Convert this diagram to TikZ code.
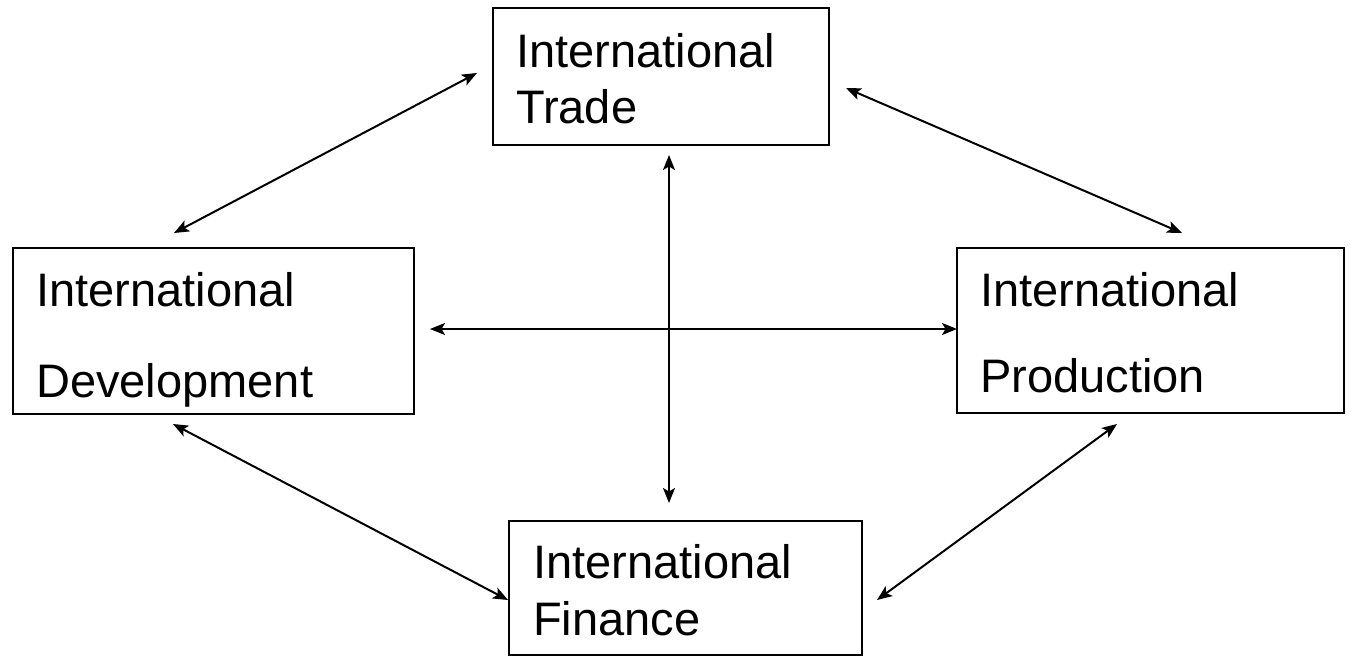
\documentclass[tikz,border=0pt]{standalone}
\usepackage{fontspec}
\setmainfont{Liberation Sans}
\usetikzlibrary{arrows.meta}
\begin{document}
\begin{tikzpicture}[x=1pt,y=-1pt,
  box/.style={draw=black,line width=2pt,inner sep=0pt,outer sep=0pt,anchor=north west},
  lbl/.style={anchor=base west,inner sep=0pt,font=\fontsize{47}{56}\selectfont},
  arr/.style={line width=2pt,{Stealth[length=15pt,width=12pt,inset=3.5pt]}-{Stealth[length=15pt,width=12pt,inset=3.5pt]}}]
\useasboundingbox (0,0) rectangle (1356,657);
% boxes
\node[box,minimum width=336pt,minimum height=137pt] (trade) at (493,8) {};
\node[box,minimum width=401pt,minimum height=166pt] (dev) at (13,248) {};
\node[box,minimum width=387pt,minimum height=165pt] (prod) at (957,248) {};
\node[box,minimum width=353pt,minimum height=134pt] (fin) at (509,521) {};
% labels
\node[lbl] (t1) at (516,67) {International};
\node[lbl] (t2) at (516,123) {Trade};
\node[lbl] (d1) at (36,306) {International};
\node[lbl] (d2) at (36,397) {Development};
\node[lbl] (p1) at (980,306) {International};
\node[lbl] (p2) at (980,392) {Production};
\node[lbl] (f1) at (533,578) {International};
\node[lbl] (f2) at (533,635) {Finance};
% connector ends
\coordinate (a1) at (477,73);  \coordinate (a2) at (174,233);
\coordinate (b1) at (846,88);  \coordinate (b2) at (1182,233);
\coordinate (v1) at (669,155); \coordinate (v2) at (669,503);
\coordinate (h1) at (430,329); \coordinate (h2) at (957,329);
\coordinate (c1) at (173,424); \coordinate (c2) at (508,600);
\coordinate (e1) at (1117,424);\coordinate (e2) at (877,600);
% connectors
\draw[arr] (a1) -- (a2);
\draw[arr] (b1) -- (b2);
\draw[arr] (v1) -- (v2);
\draw[arr] (h1) -- (h2);
\draw[arr] (c1) -- (c2);
\draw[arr] (e1) -- (e2);
\end{tikzpicture}
\end{document}
